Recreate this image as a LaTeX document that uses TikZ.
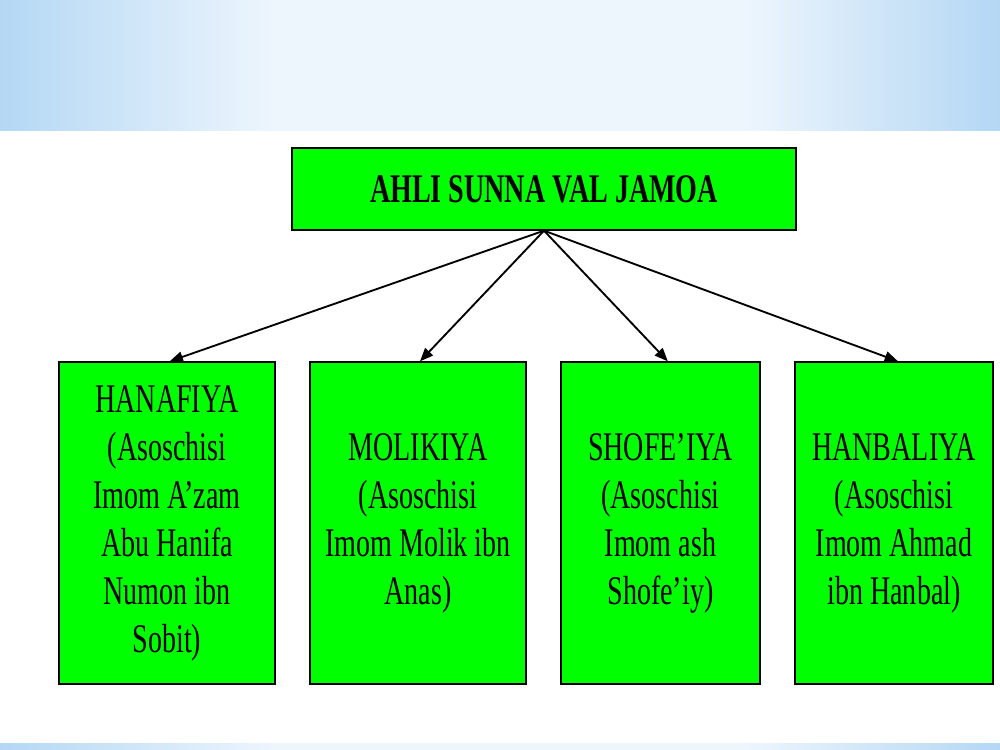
\documentclass[tikz,border=0pt]{standalone}
\usepackage{fontspec}
\setmainfont{Liberation Serif}[FakeStretch=0.69]
\usetikzlibrary{arrows.meta}
\definecolor{bandside}{HTML}{B4D7F4}
\definecolor{bandmid}{HTML}{EEF6FD}
\definecolor{boxgreen}{HTML}{00FF00}
\pgfdeclarehorizontalshading{bandshade}{100bp}{color(0bp)=(bandside); color(25bp)=(bandside); color(39bp)=(bandmid); color(62bp)=(bandmid); color(75bp)=(bandside); color(100bp)=(bandside)}
\tikzset{
  px/.style={x=0.75pt,y=-0.75pt},
  titlebox/.style={draw=black,line width=1pt,fill=boxgreen,minimum width=378pt,minimum height=61.5pt,inner sep=0pt,
    font=\fontsize{30.5}{36}\selectfont\bfseries},
  schoolbox/.style={draw=black,line width=1pt,fill=boxgreen,minimum height=241.5pt,inner sep=0pt,align=center,
    font=\fontsize{30.5}{36}\selectfont},
  arr/.style={line width=1.4pt,-{Triangle[length=10pt,width=8pt]}}
}
\begin{document}
\begin{tikzpicture}[px]
\useasboundingbox (0,0) rectangle (1000,750);
\fill[white] (0,0) rectangle (1000,750);
\shade[shading=bandshade] (0,0) rectangle (1000,130);
\shade[shading=bandshade] (0,743) rectangle (1000,750);

\node[titlebox] (top) at (544,189) {AHLI SUNNA VAL JAMOA};

\node[schoolbox,minimum width=162pt] (b1) at (167,523) {HANAFIYA\\(Asoschisi\\Imom A’zam\\Abu Hanifa\\Numon ibn\\Sobit)};
\node[schoolbox,minimum width=162pt] (b2) at (418,523) {MOLIKIYA\\(Asoschisi\\Imom Molik ibn\\Anas)};
\node[schoolbox,minimum width=149.25pt] (b3) at (660.5,523) {SHOFE’IYA\\(Asoschisi\\Imom ash\\Shofe’iy)};
\node[schoolbox,minimum width=148.5pt] (b4) at (894,523) {HANBALIYA\\(Asoschisi\\Imom Ahmad\\ibn Hanbal)};

\draw[arr] (top.south) -- ([xshift=2pt]b1.north);
\draw[arr] (top.south) -- ([xshift=1.5pt]b2.north);
\draw[arr] (top.south) -- ([xshift=5.5pt]b3.north);
\draw[arr] (top.south) -- ([xshift=3pt]b4.north);
\end{tikzpicture}
\end{document}
